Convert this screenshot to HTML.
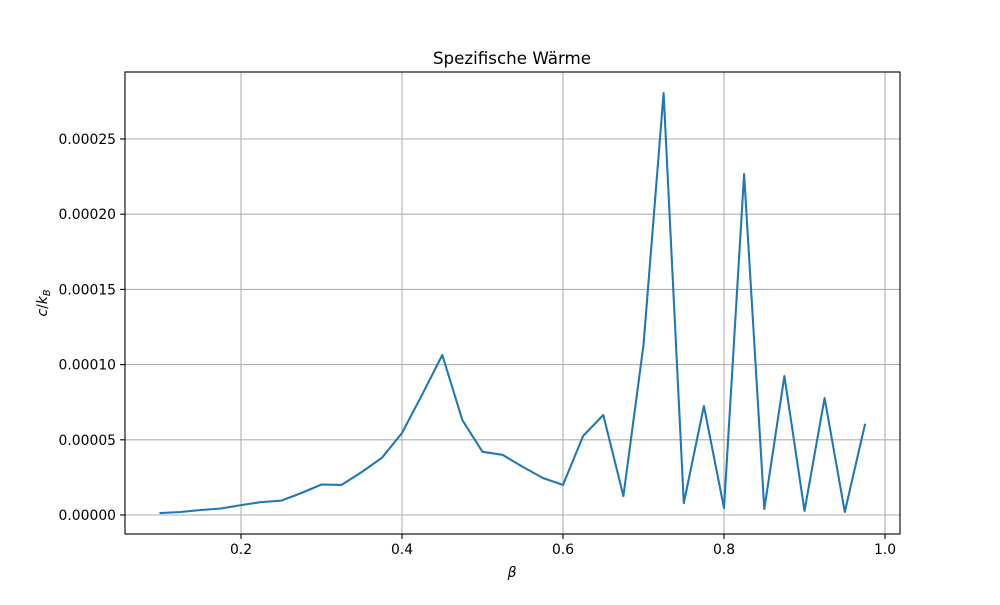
<!DOCTYPE html>
<html><head><meta charset="utf-8"><style>
html,body{margin:0;padding:0;background:#fff;}
svg text{font-family:"DejaVu Sans","Liberation Sans",sans-serif;}
</style></head><body>
<svg id="chart" width="1000" height="600" xmlns="http://www.w3.org/2000/svg">
<rect width="1000" height="600" fill="#fff"/>
<g id="grid"></g>
<g id="ticks"></g>
<path id="line" fill="none" stroke="#1f77b4" stroke-width="2.08" stroke-linejoin="round" stroke-linecap="square"/>
<rect x="125" y="72" width="775" height="462" fill="none" stroke="#000" stroke-width="1.1"/>
<text x="512" y="64" font-size="16.7" text-anchor="middle">Spezifische Wärme</text>
<text x="512" y="577" font-size="13.9" font-style="italic" text-anchor="middle">β</text>
<text transform="translate(47,303) rotate(-90)" font-size="13.9" text-anchor="middle"><tspan font-style="italic">c</tspan>/<tspan font-style="italic">k</tspan><tspan font-style="italic" font-size="9.7" dy="3">B</tspan></text>
</svg>
<script>
const betaValues=[0.1,0.125,0.15,0.175,0.2,0.225,0.25,0.275,0.3,0.325,0.35,0.375,0.4,0.425,0.45,0.475,0.5,0.525,0.55,0.575,0.6,0.625,0.65,0.675,0.7,0.725,0.75,0.775,0.8,0.825,0.85,0.875,0.9,0.925,0.95,0.975];
const heatValues=[1.3e-6,2e-6,3.3e-6,4.3e-6,6.6e-6,8.6e-6,9.6e-6,1.46e-5,2.03e-5,2.0e-5,2.86e-5,3.8e-5,5.45e-5,8.0e-5,1.064e-4,6.3e-5,4.2e-5,4.0e-5,3.2e-5,2.46e-5,2.0e-5,5.25e-5,6.65e-5,1.26e-5,1.13e-4,2.806e-4,8e-6,7.25e-5,4.6e-6,2.267e-4,4e-6,9.24e-5,2.7e-6,7.78e-5,2e-6,6e-5];
const xTicks=[0.2,0.4,0.6,0.8,1.0];
const xTickLabels=["0.2","0.4","0.6","0.8","1.0"];
const yTicks=[0,0.00005,0.0001,0.00015,0.0002,0.00025];
const yTickLabels=["0.00000","0.00005","0.00010","0.00015","0.00020","0.00025"];
const ns="http://www.w3.org/2000/svg";
const xs=v=>80+805*v;
const ys=v=>515-1504000*v;
const grid=document.getElementById('grid'),ticks=document.getElementById('ticks');
function mk(tag,attrs,parent){const e=document.createElementNS(ns,tag);for(const k in attrs)e.setAttribute(k,attrs[k]);parent.appendChild(e);return e;}
xTicks.forEach((t,i)=>{const x=xs(t);
 const g=mk('line',{x1:x,x2:x,y1:72,y2:534,stroke:'#b0b0b0','stroke-width':1.1},grid);
 
 
 const tk=mk('line',{x1:x,x2:x,y1:534,y2:538.9,stroke:'#000','stroke-width':1.1},ticks);
 
 
 const tx=mk('text',{x:x,y:554,'font-size':13.9,'text-anchor':'middle'},ticks);tx.textContent=xTickLabels[i];
 
 
});
yTicks.forEach((t,i)=>{const y=ys(t);
 const g=mk('line',{x1:125,x2:900,y1:y,y2:y,stroke:'#b0b0b0','stroke-width':1.1},grid);
 
 
 const tk=mk('line',{x1:120.1,x2:125,y1:y,y2:y,stroke:'#000','stroke-width':1.1},ticks);
 
 
 const tx=mk('text',{x:116,y:y+5,'font-size':13.9,'text-anchor':'end'},ticks);tx.textContent=yTickLabels[i];
 
 
});
document.getElementById('line').setAttribute('d',betaValues.map((b,i)=>(i?'L':'M')+xs(b).toFixed(1)+','+ys(heatValues[i]).toFixed(1)).join(''));
</script>
</body></html>
